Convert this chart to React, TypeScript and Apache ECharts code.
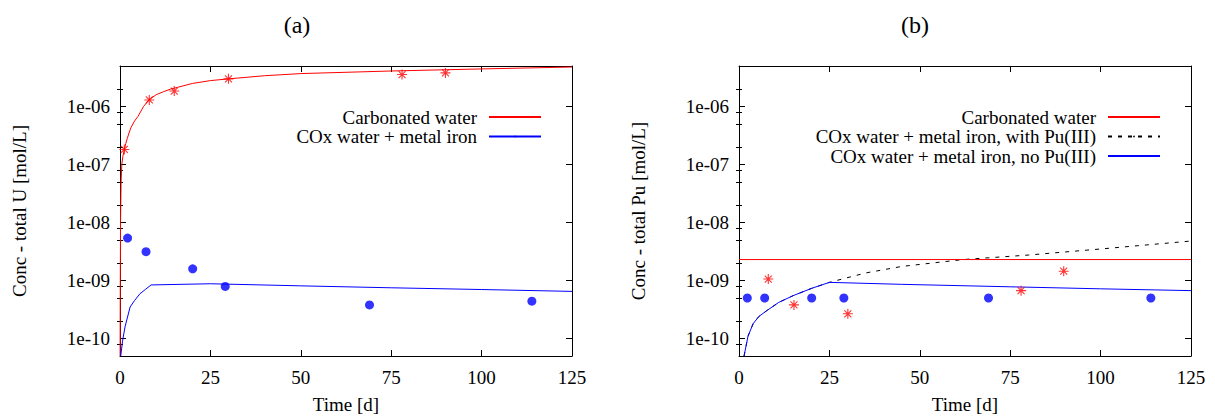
import React, { useEffect, useRef } from 'react';
import * as echarts from 'echarts';

// ---------- Panel (a): total U ----------
const uCarbFitT = [0.03, 0.08, 0.15, 0.3, 0.5, 0.8, 1.2, 1.6, 2, 2.5, 3, 4, 5, 6.5, 8, 10, 12, 14, 16, 20, 25, 30, 40, 50, 75, 100, 125];
const uCarbFitV = [5e-11, 1e-9, 1e-8, 5e-8, 1e-7, 1.4e-7, 1.8e-7, 2.3e-7, 2.8e-7, 3.5e-7, 4.3e-7, 5.6e-7, 6.8e-7, 1.0e-6, 1.3e-6, 1.6e-6, 1.8e-6, 2.0e-6, 2.15e-6, 2.5e-6, 2.8e-6, 3.0e-6, 3.4e-6, 3.7e-6, 4.1e-6, 4.45e-6, 4.8e-6];
const uFeFitT = [0.2, 0.7, 1.4, 2.8, 4, 5.5, 7, 8.6, 25, 50, 75, 100, 125];
const uFeFitV = [5e-11, 9e-11, 1.6e-10, 3.5e-10, 4.5e-10, 5.9e-10, 7e-10, 8.4e-10, 8.8e-10, 8.1e-10, 7.5e-10, 7e-10, 6.5e-10];
const uCarbDataT = [1.2, 8.1, 15, 30, 78, 90];
const uCarbDataV = [1.82e-7, 1.3e-6, 1.85e-6, 3.0e-6, 3.56e-6, 3.8e-6];
const uFeDataT = [2.1, 7.2, 20.1, 29.1, 69, 113.9];
const uFeDataV = [5.4e-9, 3.14e-9, 1.59e-9, 7.9e-10, 3.8e-10, 4.4e-10];

// ---------- Panel (b): total Pu ----------
const puCarbFitT = [0, 125];
const puCarbFitV = [2.3e-9, 2.3e-9];
const puFeIIIFitT = [1.4, 2.5, 3.9, 5.5, 7.6, 11, 15, 20, 25, 35, 45, 62, 80, 100, 125];
const puFeIIIFitV = [5e-11, 1.1e-10, 1.8e-10, 2.4e-10, 3.0e-10, 4.2e-10, 5.5e-10, 7.3e-10, 9.3e-10, 1.35e-9, 1.75e-9, 2.3e-9, 2.75e-9, 3.5e-9, 4.8e-9];
const puFeFitT = [1.4, 2.5, 3.9, 5.5, 7.6, 11, 15, 20, 25, 45, 75, 100, 125];
const puFeFitV = [5e-11, 1.1e-10, 1.8e-10, 2.4e-10, 3.0e-10, 4.2e-10, 5.5e-10, 7.3e-10, 9.3e-10, 8.6e-10, 7.8e-10, 7.2e-10, 6.7e-10];
const puCarbDataT = [8.1, 15.2, 30.1, 78, 89.8];
const puCarbDataV = [1.06e-9, 3.8e-10, 2.67e-10, 6.7e-10, 1.45e-9];
const puFeDataT = [2.3, 7.1, 20.1, 29, 69, 113.9];
const puFeDataV = [5e-10, 5e-10, 5e-10, 5e-10, 5e-10, 5e-10];

// ---------- axes ----------
const panelTitles = ['(a)', '(b)'];
const yNames = ['Conc - total U [mol/L]', 'Conc - total Pu [mol/L]'];
const xName = 'Time [d]';
const yMajorTicks = [1e-10, 1e-9, 1e-8, 1e-7, 1e-6];
const yMinorTicks = [8e-11, 2e-10, 5e-10, 8e-10, 2e-9, 5e-9, 8e-9, 2e-8, 5e-8, 8e-8, 2e-7, 5e-7, 8e-7, 2e-6];
const legendA = ['Carbonated water', 'COx water + metal iron'];
const legendB = ['Carbonated water', 'COx water + metal iron, with Pu(III)', 'COx water + metal iron, no Pu(III)'];

const FONT = '"Liberation Serif", "Times New Roman", serif';
const RED = '#ff0000';
const BLUE = '#0000ff';
const STAR = 'path://M5 0L5 10M0 5L10 5M1.5 1.5L8.5 8.5M8.5 1.5L1.5 8.5';

const pairs = (t: number[], v: number[]) => t.map((x, i) => [x, v[i]]);

const fmtExp = (v: number) => {
  const e = Math.round(Math.log10(v));
  return '1e-' + String(-e).padStart(2, '0');
};

export default function App() {
  const ref = useRef<HTMLDivElement>(null);
  useEffect(() => {
    if (!ref.current) return;
    const chart = echarts.init(ref.current, undefined, { renderer: 'svg' });
    const grids = [
      { left: 120, top: 66, width: 452, height: 293 },
      { left: 739, top: 66, width: 452, height: 293 },
    ];
    const xAxes: any[] = [];
    const yAxes: any[] = [];
    [0, 1].forEach((g) => {
      const xBase = {
        type: 'value', gridIndex: g, min: 0, max: 125, interval: 25,
        splitLine: { show: false },
        axisLine: { show: true, onZero: false, lineStyle: { color: '#000', width: 1 } },
        axisTick: { show: true, inside: true, length: 6, lineStyle: { color: '#000' } },
      };
      xAxes.push({
        ...xBase, position: 'bottom',
        name: xName, nameLocation: 'middle', nameGap: 39,
        nameTextStyle: { fontFamily: FONT, fontSize: 19, color: '#000' },
        axisLabel: { show: true, margin: 12, fontFamily: FONT, fontSize: 19, color: '#000' },
      });
      xAxes.push({ ...xBase, position: 'top', axisLabel: { show: false } });
      const yBase = {
        type: 'log', logBase: 10, gridIndex: g, min: 5e-11, max: 5e-6,
        splitLine: { show: false },
      };
      yAxes.push({
        ...yBase, position: 'left',
        name: yNames[g], nameLocation: 'middle', nameGap: 91, nameRotate: 90,
        nameTextStyle: { fontFamily: FONT, fontSize: 19, color: '#000' },
        axisLine: { show: true, onZero: false, lineStyle: { color: '#000', width: 1 } },
        axisTick: { show: true, inside: true, length: 6, customValues: yMajorTicks, lineStyle: { color: '#000' } },
        axisLabel: {
          show: true, margin: 10, fontFamily: FONT, fontSize: 19, color: '#000',
          customValues: yMajorTicks, formatter: (v: number) => fmtExp(v),
        },
      });
      yAxes.push({
        ...yBase, position: 'left',
        axisLine: { show: false },
        axisTick: { show: true, inside: true, length: 3, customValues: yMinorTicks, lineStyle: { color: '#000' } },
        axisLabel: { show: false },
      });
      yAxes.push({
        ...yBase, position: 'right',
        axisLine: { show: true, onZero: false, lineStyle: { color: '#000', width: 1 } },
        axisTick: { show: true, inside: true, length: 6, customValues: yMajorTicks, lineStyle: { color: '#000' } },
        axisLabel: { show: false },
      });
      yAxes.push({
        ...yBase, position: 'right',
        axisLine: { show: false },
        axisTick: { show: true, inside: true, length: 3, customValues: yMinorTicks, lineStyle: { color: '#000' } },
        axisLabel: { show: false },
      });
    });

    const lineS = (name: string, g: number, data: number[][], color: string, dashed = false, z = 2) => ({
      type: 'line', name, xAxisIndex: g * 2, yAxisIndex: g * 4, data,
      symbol: 'none', showSymbol: false, clip: true, z,
      lineStyle: { color, width: 1, type: dashed ? [4, 6] : 'solid' },
      itemStyle: { color },
    });
    const starS = (name: string, g: number, data: number[][]) => ({
      type: 'scatter', name, xAxisIndex: g * 2, yAxisIndex: g * 4, data,
      symbol: STAR, symbolSize: 10, z: 4,
      itemStyle: { color: 'rgba(0,0,0,0)', borderColor: RED, borderWidth: 1.1 },
    });
    const dotS = (name: string, g: number, data: number[][]) => ({
      type: 'scatter', name, xAxisIndex: g * 2, yAxisIndex: g * 4, data,
      symbol: 'circle', symbolSize: 9, z: 4,
      itemStyle: { color: BLUE },
    });

    const legendRow = (name: string, right: number, top: number) => ({
      data: [name], right, top, orient: 'horizontal', align: 'right',
      itemWidth: 52, itemHeight: 2, itemGap: 0, padding: 0, selectedMode: false,
      textStyle: { fontFamily: FONT, fontSize: 19, color: '#000', padding: [0, 7, 0, 0], lineHeight: 20 },
    });

    chart.setOption({
      animation: false,
      backgroundColor: '#fff',
      grid: grids,
      xAxis: xAxes,
      yAxis: yAxes,
      legend: [
        legendRow(legendA[0], 673, 107),
        legendRow(legendA[1], 673, 126.5),
        legendRow(legendB[0], 54, 107),
        legendRow(legendB[1], 54, 126.5),
        legendRow(legendB[2], 54, 146),
      ],
      graphic: [
        { type: 'text', x: 297, y: 25, style: { text: panelTitles[0], font: `24px ${FONT}`, fill: '#000', align: 'center', verticalAlign: 'middle' } },
        { type: 'text', x: 915, y: 25, style: { text: panelTitles[1], font: `24px ${FONT}`, fill: '#000', align: 'center', verticalAlign: 'middle' } },
      ],
      series: [
        lineS(legendA[0], 0, pairs(uCarbFitT, uCarbFitV), RED),
        lineS(legendA[1], 0, pairs(uFeFitT, uFeFitV), BLUE),
        starS('U carbonated water data', 0, pairs(uCarbDataT, uCarbDataV)),
        dotS('U COx + iron data', 0, pairs(uFeDataT, uFeDataV)),
        lineS(legendB[0], 1, pairs(puCarbFitT, puCarbFitV), RED),
        lineS(legendB[1], 1, pairs(puFeIIIFitT, puFeIIIFitV), '#000', true, 1),
        lineS(legendB[2], 1, pairs(puFeFitT, puFeFitV), BLUE, false, 3),
        starS('Pu carbonated water data', 1, pairs(puCarbDataT, puCarbDataV)),
        dotS('Pu COx + iron data', 1, pairs(puFeDataT, puFeDataV)),
      ],
    });
    return () => chart.dispose();
  }, []);
  return <div ref={ref} style={{ position: 'absolute', left: 0, top: 0, width: 1215, height: 419 }} />;
}
